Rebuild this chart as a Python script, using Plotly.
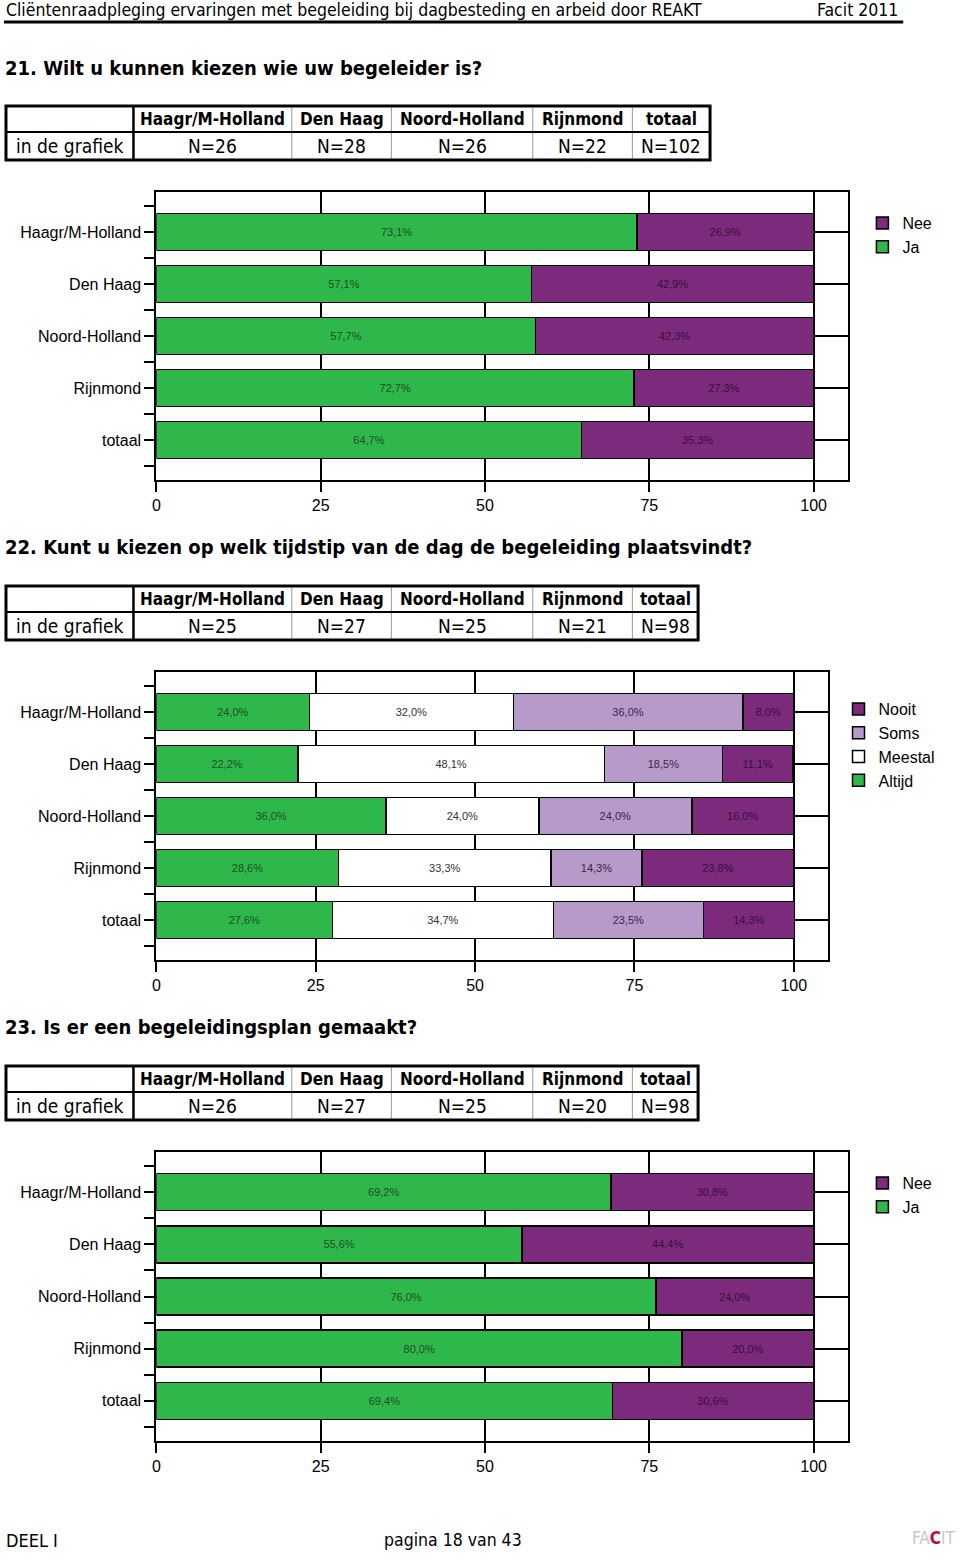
import plotly.graph_objects as go

W, H = 960, 1563

regions = ["Haagr/M-Holland", "Den Haag", "Noord-Holland", "Rijnmond", "totaal"]
table_cols = ["Haagr/M-Holland", "Den Haag", "Noord-Holland", "Rijnmond", "totaal"]

# Q21
q21_title = "21. Wilt u kunnen kiezen wie uw begeleider is?"
q21_n = [26, 28, 26, 22, 102]
q21_ja = [73.1, 57.1, 57.7, 72.7, 64.7]
q21_nee = [26.9, 42.9, 42.3, 27.3, 35.3]

# Q22
q22_title = "22. Kunt u kiezen op welk tijdstip van de dag de begeleiding plaatsvindt?"
q22_n = [25, 27, 25, 21, 98]
q22_altijd = [24.0, 22.2, 36.0, 28.6, 27.6]
q22_meestal = [32.0, 48.1, 24.0, 33.3, 34.7]
q22_soms = [36.0, 18.5, 24.0, 14.3, 23.5]
q22_nooit = [8.0, 11.1, 16.0, 23.8, 14.3]

# Q23
q23_title = "23. Is er een begeleidingsplan gemaakt?"
q23_n = [26, 27, 25, 20, 98]
q23_ja = [69.2, 55.6, 76.0, 80.0, 69.4]
q23_nee = [30.8, 44.4, 24.0, 20.0, 30.6]

x_ticks = [0, 25, 50, 75, 100]

GREEN = "#2eb84b"
PURPLE = "#7b2a7c"
LPURPLE = "#b69ac9"
WHITE = "#ffffff"

NARROW = "DejaVu Sans Condensed, Liberation Sans Narrow, sans-serif"
SANS = "Liberation Sans, Arial, Helvetica, sans-serif"


def px(x):
    return x / W


def py(y):
    return 1 - y / H


def fmt(v):
    return f"{v:.1f}".replace(".", ",") + "%"


fig = go.Figure()
ypos = list(range(len(regions)))


def add_series(vals, name, color, tcolor, ax, legend):
    fig.add_trace(go.Bar(
        x=vals, y=ypos, orientation="h", name=name,
        marker=dict(color=color, line=dict(color="black", width=1.5)),
        width=0.71,
        text=[fmt(v) for v in vals], textposition="inside",
        insidetextanchor="middle", constraintext="none",
        textfont=dict(size=11, color=tcolor, family=SANS),
        xaxis="x" + ax, yaxis="y" + ax, legend=legend,
        hoverinfo="skip",
    ))


add_series(q21_ja, "Ja", GREEN, "#1c4f26", "", "legend")
add_series(q21_nee, "Nee", PURPLE, "#3a0f3c", "", "legend")
add_series(q22_altijd, "Altijd", GREEN, "#1c4f26", "2", "legend2")
add_series(q22_meestal, "Meestal", WHITE, "#333333", "2", "legend2")
add_series(q22_soms, "Soms", LPURPLE, "#3e2450", "2", "legend2")
add_series(q22_nooit, "Nooit", PURPLE, "#3a0f3c", "2", "legend2")
add_series(q23_ja, "Ja", GREEN, "#1c4f26", "3", "legend3")
add_series(q23_nee, "Nee", PURPLE, "#3a0f3c", "3", "legend3")


def xaxis_cfg(x0, x1, anchor):
    return dict(
        domain=[px(x0), px(x1)], anchor=anchor, range=[0, 105.3],
        tickmode="array", tickvals=x_ticks, ticks="outside", ticklen=10,
        tickwidth=2, tickcolor="black", showgrid=True, gridcolor="black",
        gridwidth=1.5, showline=True, mirror=True, linecolor="black",
        linewidth=2, zeroline=False, tickfont=dict(size=16, color="black", family=SANS),
        fixedrange=True,
    )


def yaxis_cfg(y0, y1, anchor):
    return dict(
        domain=[py(y1), py(y0)], anchor=anchor, range=[4.77, -0.77],
        tickmode="array", tickvals=ypos, ticktext=regions,
        ticks="outside", ticklen=10, tickwidth=2, tickcolor="black",
        minor=dict(tick0=0.5, dtick=1, ticks="outside", ticklen=10,
                   tickwidth=2, tickcolor="black", showgrid=False),
        showgrid=True, gridcolor="black", gridwidth=1.5,
        showline=True, mirror=True, linecolor="black", linewidth=2,
        zeroline=False, tickfont=dict(size=16, color="black", family=SANS),
        fixedrange=True,
    )


shapes = []
annotations = []


def ann(x, y, text, size, bold=False, anchor="center", family=NARROW, color="black"):
    annotations.append(dict(
        x=px(x), y=py(y), xref="paper", yref="paper", text=f"<b>{text}</b>" if bold else text,
        showarrow=False, xanchor=anchor, yanchor="middle",
        font=dict(size=size, color=color, family=family),
    ))


def line(x0, y0, x1, y1, width, color="black"):
    shapes.append(dict(type="line", xref="paper", yref="paper",
                       x0=px(x0), y0=py(y0), x1=px(x1), y1=py(y1),
                       line=dict(color=color, width=width)))


def table(top, right, ns):
    mid = top + 26
    bot = top + 54
    edges = [130, 289, 389, 531, 631, right]
    for xe in edges[1:-1]:
        line(xe, top, xe, bot, 1, "#999999")
    line(130, top, 130, bot, 2.5)
    line(3, mid, right, mid, 2)
    shapes.append(dict(type="rect", xref="paper", yref="paper",
                       x0=px(2), y0=py(bot), x1=px(right), y1=py(top),
                       line=dict(color="black", width=3)))
    ann(66, (mid + bot) / 2, "in de grafiek", 19)
    for i, c in enumerate(table_cols):
        cx = (edges[i] + edges[i + 1]) / 2
        ann(cx, (top + mid) / 2, c, 17, bold=True)
        ann(cx, (mid + bot) / 2, f"N={ns[i]}", 19)


# header
ann(0, 10, "Cliëntenraadpleging ervaringen met begeleiding bij dagbesteding en arbeid door REAKT", 17.5, anchor="left")
ann(900, 10, "Facit 2011", 17.5, anchor="right")
line(0, 22, 903, 22, 3)

# titles
ann(-1, 68, q21_title, 20, bold=True, anchor="left")
ann(-1, 547, q22_title, 20, bold=True, anchor="left")
ann(-1, 1027, q23_title, 20, bold=True, anchor="left")

table(106, 709, q21_n)
table(586, 697, q22_n)
table(1066, 697, q23_n)

# footer
ann(0, 1540, "DEEL I", 18, anchor="left")
ann(451, 1540, "pagina 18 van 43", 17.5)
annotations.append(dict(
    x=px(933), y=py(1538), xref="paper", yref="paper", showarrow=False,
    text="<span style='color:#c8c8c8'>FA</span><b><span style='color:#b3123e'>C</span></b><span style='color:#c8c8c8'>IT</span>",
    font=dict(size=17, family=NARROW), xanchor="center", yanchor="middle"))

legend_common = dict(bgcolor="rgba(0,0,0,0)", borderwidth=0, traceorder="reversed",
                     font=dict(size=16, color="black", family=SANS),
                     xanchor="left", yanchor="top", itemclick=False, itemdoubleclick=False)

fig.update_layout(
    width=W, height=H, margin=dict(l=0, r=0, t=0, b=0),
    paper_bgcolor="white", plot_bgcolor="white",
    barmode="stack", showlegend=True,
    xaxis=xaxis_cfg(153, 848, "y"), yaxis=yaxis_cfg(192, 480, "x"),
    xaxis2=xaxis_cfg(153, 827, "y2"), yaxis2=yaxis_cfg(672, 960, "x2"),
    xaxis3=xaxis_cfg(153, 848, "y3"), yaxis3=yaxis_cfg(1152, 1441, "x3"),
    legend=dict(x=px(862), y=py(206), **legend_common),
    legend2=dict(x=px(838), y=py(692), **legend_common),
    legend3=dict(x=px(862), y=py(1166), **legend_common),
    shapes=shapes, annotations=annotations,
)

fig.write_html("out.html", config={"displayModeBar": False},
               post_script="document.body.style.margin='0';")
